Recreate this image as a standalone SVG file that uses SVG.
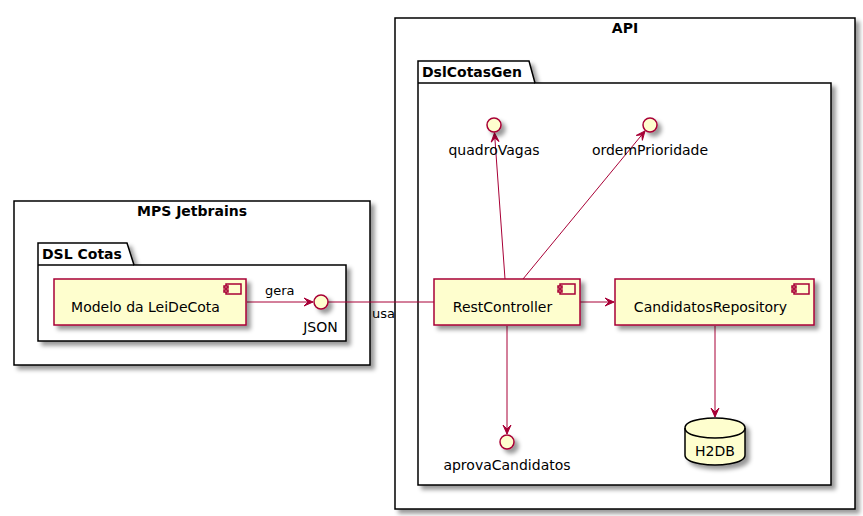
<svg xmlns="http://www.w3.org/2000/svg" width="863" height="516" viewBox="0 0 863 516">
<defs>
<filter id="sh" x="-1" y="-1" width="300%" height="300%"><feGaussianBlur result="b" stdDeviation="2"/><feColorMatrix in="b" result="b2" type="matrix" values="0 0 0 0 0 0 0 0 0 0 0 0 0 0 0 0 0 0 .4 0"/><feOffset dx="4" dy="4" in="b2" result="b3"/><feBlend in="SourceGraphic" in2="b3" mode="normal"/></filter>
<marker id="ah" markerUnits="userSpaceOnUse" orient="auto" refX="0" refY="0" markerWidth="20" markerHeight="20" viewBox="-10 -10 20 20" overflow="visible"><path d="M0,0 L-9,-4 L-5,0 L-9,4 Z" fill="#A80036" stroke="#A80036" stroke-width="1"/></marker>
<style>
text{font-family:"DejaVu Sans","Liberation Sans",sans-serif;fill:#000}
.frame{fill:#FFFFFF;stroke:#000;stroke-width:1.5}
.title{font-size:14px;font-weight:bold}
.comp{fill:#FEFECE;stroke:#A80036;stroke-width:1.5}
.ico{fill:#FEFECE;stroke:#A80036;stroke-width:1.5}
.lbl{font-size:14px}
.elbl{font-size:13px}
.conn{stroke:#A80036;stroke-width:1;fill:none}
</style>
</defs>
<rect width="863" height="516" fill="#FFFFFF"/>

<g id="mps">
<rect class="frame" x="14" y="201" width="356" height="164" filter="url(#sh)"/>
<text class="title" x="192" y="216" text-anchor="middle">MPS Jetbrains</text>
</g>
<g id="dslcotas">
<polygon class="frame" points="38,243 127,243 134,265 346,265 346,341 38,341" filter="url(#sh)"/>
<line x1="38" y1="265" x2="134" y2="265" stroke="#000" stroke-width="1.5"/>
<text class="title" x="42" y="259">DSL Cotas</text>
</g>

<g id="api">
<rect class="frame" x="395" y="18" width="460" height="491" filter="url(#sh)"/>
<text class="title" x="625" y="33" text-anchor="middle">API</text>
</g>
<g id="dslcotasgen">
<polygon class="frame" points="418,61 529,61 535,83 831,83 831,485 418,485" filter="url(#sh)"/>
<line x1="418" y1="83" x2="535" y2="83" stroke="#000" stroke-width="1.5"/>
<text class="title" x="422" y="77">DslCotasGen</text>
</g>

<g id="connectors">
<line class="conn" x1="247" y1="302" x2="313" y2="302" marker-end="url(#ah)"/>
<line class="conn" x1="328" y1="302" x2="434" y2="302"/>
<line class="conn" x1="505" y1="279" x2="494.5" y2="133" marker-end="url(#ah)"/>
<line class="conn" x1="523" y1="279" x2="645" y2="131" marker-end="url(#ah)"/>
<line class="conn" x1="580" y1="302" x2="614" y2="302" marker-end="url(#ah)"/>
<line class="conn" x1="507" y1="326" x2="507" y2="434" marker-end="url(#ah)"/>
<line class="conn" x1="715" y1="326" x2="715" y2="417" marker-end="url(#ah)"/>
<text class="elbl" x="265" y="295">gera</text>
<text class="elbl" x="372" y="318">usa</text>
</g>

<g id="modelo">
<rect class="comp" x="54" y="279" width="192" height="46" filter="url(#sh)"/>
<rect class="ico" x="226" y="284" width="15" height="10"/>
<rect class="ico" x="224" y="286" width="4" height="2"/>
<rect class="ico" x="224" y="290" width="4" height="2"/>
<text class="lbl" x="145.5" y="312" text-anchor="middle">Modelo da LeiDeCota</text>
</g>

<g id="json">
<circle class="ico" cx="321" cy="302" r="7" filter="url(#sh)"/>
<text class="lbl" x="320.5" y="332" text-anchor="middle">JSON</text>
</g>

<g id="quadroVagas">
<circle class="ico" cx="494" cy="125" r="7" filter="url(#sh)"/>
<text class="lbl" x="494" y="155" text-anchor="middle">quadroVagas</text>
</g>

<g id="ordemPrioridade">
<circle class="ico" cx="650" cy="125" r="7" filter="url(#sh)"/>
<text class="lbl" x="650" y="155" text-anchor="middle">ordemPrioridade</text>
</g>

<g id="restController">
<rect class="comp" x="434" y="279" width="146" height="46" filter="url(#sh)"/>
<rect class="ico" x="560" y="284" width="15" height="10"/>
<rect class="ico" x="558" y="286" width="4" height="2"/>
<rect class="ico" x="558" y="290" width="4" height="2"/>
<text class="lbl" x="502.5" y="312" text-anchor="middle">RestController</text>
</g>

<g id="candidatosRepository">
<rect class="comp" x="615" y="279" width="199" height="46" filter="url(#sh)"/>
<rect class="ico" x="794" y="284" width="15" height="10"/>
<rect class="ico" x="792" y="286" width="4" height="2"/>
<rect class="ico" x="792" y="290" width="4" height="2"/>
<text class="lbl" x="710.5" y="312" text-anchor="middle">CandidatosRepository</text>
</g>

<g id="aprovaCandidatos">
<circle class="ico" cx="507" cy="442" r="7" filter="url(#sh)"/>
<text class="lbl" x="507" y="470" text-anchor="middle">aprovaCandidatos</text>
</g>

<g id="h2db">
<path d="M685,428 C685,418 715,418 715,418 C715,418 745,418 745,428 L745,455 C745,465 715,465 715,465 C715,465 685,465 685,455 Z" fill="#FEFECE" stroke="#000" stroke-width="1.5" filter="url(#sh)"/>
<path d="M685,428 C685,438 715,438 715,438 C715,438 745,438 745,428" fill="none" stroke="#000" stroke-width="1.5"/>
<text class="lbl" x="715" y="456" text-anchor="middle">H2DB</text>
</g>
</svg>
